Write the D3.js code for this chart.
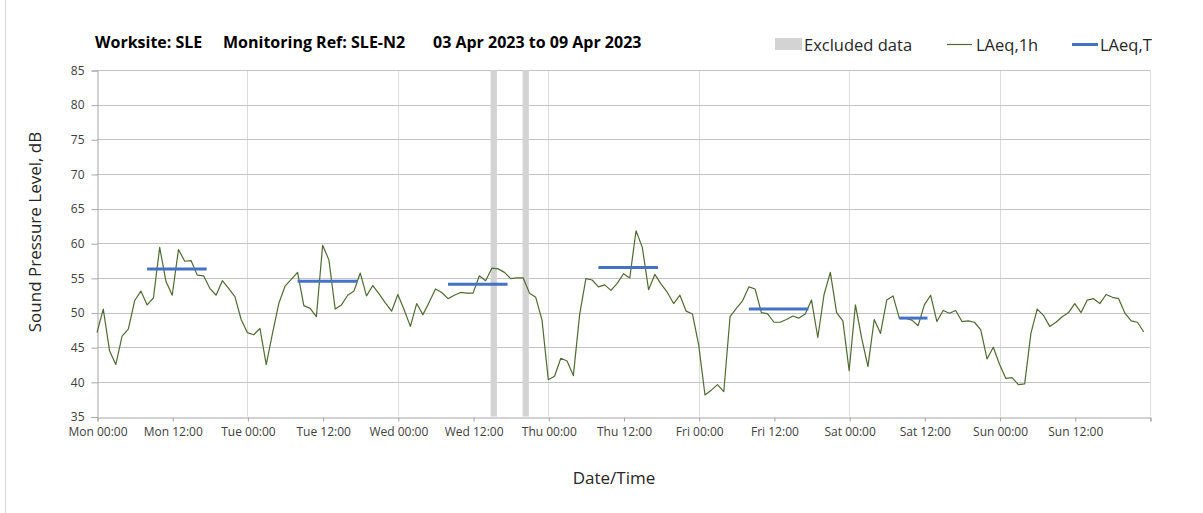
<!DOCTYPE html>
<html><head><meta charset="utf-8">
<script src="https://cdn.jsdelivr.net/npm/d3@7"></script>
<style>
body{margin:0;background:#fff;}
svg{display:block;font-family:"Open Sans",sans-serif;}
</style></head>
<body><svg id="chart" width="1203" height="513"></svg>
<script>
// Hourly LAeq,1h values, Mon 00:00 (hour 0) to Sun 23:00 (hour 167)
const laeq1h = [
 47.1,50.5,44.5,42.5,46.6,47.6,51.7,53.1,51.1,52.1,59.4,54.5,52.5,59.1,57.4,57.5,55.4,55.3,53.5,52.5,54.6,53.5,52.3,49.0,
 47.1,46.8,47.7,42.5,47.0,51.3,53.8,54.8,55.8,51.0,50.6,49.4,59.7,57.6,50.5,51.1,52.5,53.1,55.7,52.4,53.9,52.7,51.4,50.2,
 52.6,50.4,48.0,51.3,49.7,51.5,53.4,52.9,52.0,52.5,52.9,52.8,52.8,55.3,54.6,56.4,56.3,55.8,54.9,55.0,55.0,52.8,52.2,48.9,
 40.3,40.8,43.4,43.0,40.9,49.7,54.9,54.7,53.7,54.0,53.2,54.2,55.6,55.0,61.8,59.4,53.3,55.5,54.1,52.9,51.3,52.5,50.2,49.8,
 45.3,38.1,38.8,39.6,38.6,49.4,50.6,51.7,53.7,53.4,50.0,49.8,48.6,48.6,49.0,49.5,49.2,49.8,51.8,46.4,52.6,55.8,50.0,48.8,
 41.6,51.1,46.3,42.2,49.0,47.0,51.8,52.4,49.2,49.2,48.9,48.1,51.1,52.5,48.7,50.3,49.9,50.3,48.7,48.8,48.6,47.5,43.3,45.0,
 42.5,40.5,40.6,39.6,39.7,47.0,50.5,49.6,48.0,48.6,49.4,50.0,51.3,50.0,51.8,52.0,51.3,52.6,52.2,52.0,49.9,48.8,48.6,47.2
];
// LAeq,T periods (start hour, end hour, level)
const laeqTStart = [8, 32, 56, 80, 104, 128];
const laeqTEnd   = [17.5, 41.5, 65.5, 89.5, 113.5, 132.5];
const laeqTValue = [56.3, 54.5, 54.1, 56.5, 50.5, 49.2];
// Excluded data periods (start hour, end hour)
const excludedStart = [62.8, 67.9];
const excludedEnd   = [63.8, 68.9];
// Axis ticks
const xTickHours  = [0,12,24,36,48,60,72,84,96,108,120,132,144,156,168];
const xTickLabels = ["Mon 00:00","Mon 12:00","Tue 00:00","Tue 12:00","Wed 00:00","Wed 12:00","Thu 00:00","Thu 12:00","Fri 00:00","Fri 12:00","Sat 00:00","Sat 12:00","Sun 00:00","Sun 12:00",""];
const yTicks = [35,40,45,50,55,60,65,70,75,80,85];
const dayGridHours = [24,48,72,96,120,144,168];

const svg = d3.select("#chart");
const x = d3.scaleLinear().domain([0,168]).range([97,1150]);
const y = d3.scaleLinear().domain([35,85]).range([416.5,70]);

// outer border
svg.append("line").attr("x1",5.5).attr("x2",5.5).attr("y1",0).attr("y2",513).attr("stroke","#d9d9d9");

// vertical day gridlines
svg.append("g").selectAll("line").data(dayGridHours).join("line")
  .attr("x1",d=>Math.round(x(d))+0.5).attr("x2",d=>Math.round(x(d))+0.5)
  .attr("y1",y(85)).attr("y2",y(35)).attr("stroke","#dcdcdc").attr("stroke-width",1);

// horizontal gridlines
svg.append("g").selectAll("line").data(yTicks.filter(d=>d>35)).join("line")
  .attr("x1",x(0)).attr("x2",x(168))
  .attr("y1",d=>Math.round(y(d))+0.5).attr("y2",d=>Math.round(y(d))+0.5)
  .attr("stroke","#c4c4c4").attr("stroke-width",1);

// excluded bars
svg.append("g").selectAll("rect").data(excludedStart).join("rect")
  .attr("x",d=>x(d)).attr("width",(d,i)=>x(excludedEnd[i])-x(d))
  .attr("y",y(85)).attr("height",y(35)-y(85)).attr("fill","#d3d3d3");

// y axis
const yAxis = d3.axisLeft(y).tickValues(yTicks).tickSize(6).tickPadding(7);
const gy = svg.append("g").attr("transform",`translate(${Math.round(x(0))+0.5},0.5)`).call(yAxis);
gy.select(".domain").attr("stroke","#a6a6a6");
gy.selectAll(".tick line").attr("stroke","#a6a6a6");
gy.selectAll(".tick text").attr("fill","#404040").style("font-size","12px").style("font-family","Open Sans");

// x axis
const xAxis = d3.axisBottom(x).tickValues(xTickHours).tickFormat((d,i)=>xTickLabels[i]).tickSize(4).tickPadding(6);
const gx = svg.append("g").attr("transform",`translate(0.5,${Math.round(y(35))+0.5})`).call(xAxis);
gx.select(".domain").attr("stroke","#a6a6a6");
gx.selectAll(".tick line").attr("stroke","#a6a6a6");
gx.selectAll(".tick text").attr("fill","#404040").style("font-size","12px").style("font-family","Open Sans");

// LAeq,1h line
const line = d3.line().x((d,i)=>x(i)).y(d=>y(d));
svg.append("path").datum(laeq1h).attr("d",line)
  .attr("fill","none").attr("stroke","#4f6b30").attr("stroke-width",1.2).attr("stroke-linejoin","round");

// LAeq,T segments
svg.append("g").selectAll("line").data(laeqTStart).join("line")
  .attr("x1",d=>x(d)).attr("x2",(d,i)=>x(laeqTEnd[i]))
  .attr("y1",(d,i)=>y(laeqTValue[i])).attr("y2",(d,i)=>y(laeqTValue[i]))
  .attr("stroke","#4472c4").attr("stroke-width",3);

// title
const title = svg.append("g").style("font-family","Open Sans").style("font-weight","bold").style("font-size","16px").attr("fill","#000");
title.append("text").attr("x",95).attr("y",48).text("Worksite: SLE");
title.append("text").attr("x",223).attr("y",48).text("Monitoring Ref: SLE-N2");
title.append("text").attr("x",433).attr("y",48).text("03 Apr 2023 to 09 Apr 2023");

// legend
const lg = svg.append("g").style("font-family","Open Sans").style("font-size","16.5px").attr("fill","#262626");
lg.append("rect").attr("x",775).attr("y",38).attr("width",27).attr("height",12).attr("fill","#d3d3d3");
lg.append("text").attr("x",804).attr("y",50.5).text("Excluded data");
lg.append("line").attr("x1",947).attr("x2",972).attr("y1",44.5).attr("y2",44.5).attr("stroke","#4f6b30").attr("stroke-width",1.2);
lg.append("text").attr("x",976).attr("y",50.5).text("LAeq,1h");
lg.append("line").attr("x1",1072).attr("x2",1098).attr("y1",44.5).attr("y2",44.5).attr("stroke","#4472c4").attr("stroke-width",3);
lg.append("text").attr("x",1100).attr("y",50.5).text("LAeq,T");

// axis titles
svg.append("text").attr("transform","translate(41,232) rotate(-90)").attr("text-anchor","middle")
  .style("font-family","Open Sans").style("font-size","17px").attr("fill","#262626").text("Sound Pressure Level, dB");
svg.append("text").attr("x",614).attr("y",484).attr("text-anchor","middle")
  .style("font-family","Open Sans").style("font-size","17px").attr("fill","#262626").text("Date/Time");
</script></body></html>
